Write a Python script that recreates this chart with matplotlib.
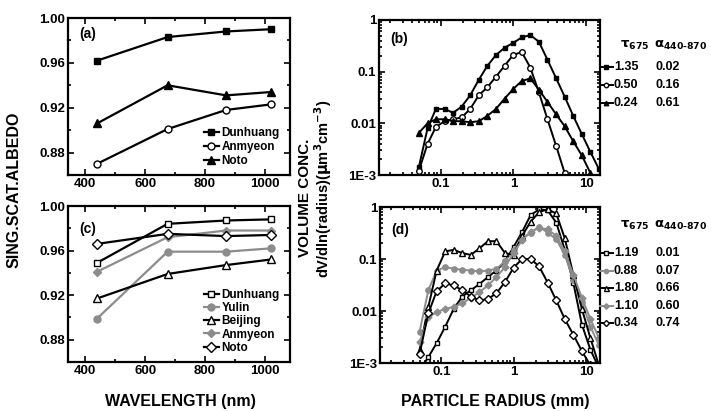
import matplotlib
matplotlib.use('Agg')
import matplotlib.pyplot as plt
from matplotlib.lines import Line2D
from matplotlib.ticker import FixedLocator, NullFormatter, LogLocator

plt.rcParams['font.family'] = ['Liberation Sans', 'DejaVu Sans']
plt.rcParams['font.weight'] = 'bold'
plt.rcParams['mathtext.default'] = 'bf'

# ---- data ----
wavelength = [440, 675, 870, 1020]

# panel (a)
a_dunhuang = [0.962, 0.983, 0.988, 0.990]
a_anmyeon = [0.870, 0.901, 0.918, 0.923]
a_noto = [0.906, 0.940, 0.931, 0.934]

# panel (c)
c_dunhuang = [0.949, 0.984, 0.987, 0.988]
c_yulin = [0.899, 0.959, 0.959, 0.962]
c_beijing = [0.917, 0.939, 0.947, 0.952]
c_anmyeon = [0.941, 0.972, 0.978, 0.978]
c_noto = [0.966, 0.975, 0.973, 0.974]

radius = [0.050, 0.066, 0.086, 0.113, 0.148, 0.194, 0.255, 0.335, 0.439, 0.576, 0.756,
          0.992, 1.302, 1.708, 2.239, 2.938, 3.856, 5.059, 6.637, 8.708, 11.425, 15.0]

# panel (b)
b_dunhuang = [0.0014, 0.008, 0.019, 0.019, 0.016, 0.021, 0.035, 0.07, 0.13, 0.21, 0.29,
              0.36, 0.46, 0.51, 0.38, 0.17, 0.075, 0.033, 0.014, 0.0062, 0.0028, 0.0013]
b_anmyeon = [0.0012, 0.004, 0.0085, 0.011, 0.012, 0.013, 0.019, 0.035, 0.05, 0.08, 0.13,
             0.21, 0.24, 0.12, 0.04, 0.012, 0.0037, 0.0011]
b_noto = [0.0065, 0.010, 0.012, 0.012, 0.011, 0.011, 0.0105, 0.011, 0.014, 0.019, 0.03,
          0.046, 0.066, 0.074, 0.045, 0.026, 0.015, 0.0088, 0.0045, 0.0024, 0.0011]
b_tau = ['1.35', '0.50', '0.24']
b_alpha = ['0.02', '0.16', '0.61']

# panel (d)
d_dunhuang = [0.0007, 0.0013, 0.0024, 0.005, 0.011, 0.019, 0.025, 0.033, 0.045, 0.06, 0.09,
              0.17, 0.33, 0.7, 0.9, 0.86, 0.5, 0.15, 0.035, 0.0055, 0.0018, 0.0008]
d_yulin = [0.004, 0.025, 0.06, 0.07, 0.065, 0.062, 0.06, 0.058, 0.06, 0.065, 0.09,
           0.15, 0.25, 0.32, 0.42, 0.32, 0.24, 0.12, 0.04, 0.015, 0.005, 0.0022]
d_beijing = [0.0018, 0.012, 0.06, 0.14, 0.15, 0.13, 0.12, 0.16, 0.22, 0.22, 0.13,
             0.12, 0.28, 0.52, 0.8, 0.9, 0.75, 0.25, 0.05, 0.011, 0.003, 0.0009]
d_anmyeon = [0.0025, 0.0075, 0.0095, 0.011, 0.012, 0.014, 0.018, 0.023, 0.031, 0.045, 0.07,
             0.13, 0.23, 0.33, 0.4, 0.37, 0.28, 0.14, 0.05, 0.018, 0.007, 0.003]
d_noto = [0.0015, 0.009, 0.024, 0.034, 0.031, 0.025, 0.019, 0.016, 0.017, 0.022, 0.036,
          0.068, 0.1, 0.1, 0.072, 0.035, 0.016, 0.007, 0.0035, 0.0017, 0.0009]
d_tau = ['1.19', '0.88', '1.80', '1.10', '0.34']
d_alpha = ['0.01', '0.07', '0.66', '0.60', '0.74']

GRAY = '#8c8c8c'
W, H = 711, 411


def box(l, t, r, b):
    return [l / W, 1 - b / H, (r - l) / W, (b - t) / H]


def fx(px):
    return px / W


def fy(py):
    return 1 - py / H


fig = plt.figure(figsize=(7.11, 4.11), dpi=100)
ax_a = fig.add_axes(box(68, 18, 290, 175))
ax_c = fig.add_axes(box(68, 206, 290, 362))
ax_b = fig.add_axes(box(379, 20, 600, 175))
ax_d = fig.add_axes(box(380, 207, 600, 363))


def style_lin(ax):
    ax.set_xlim(343, 1083)
    ax.set_ylim(0.86, 1.0)
    ax.xaxis.set_major_locator(FixedLocator([400, 600, 800, 1000]))
    ax.xaxis.set_minor_locator(FixedLocator([500, 700, 900]))
    ax.yaxis.set_major_locator(FixedLocator([0.88, 0.92, 0.96, 1.00]))
    ax.yaxis.set_minor_locator(FixedLocator([0.86, 0.90, 0.94, 0.98]))
    ax.set_yticklabels(['0.88', '0.92', '0.96', '1.00'])
    ax.tick_params(which='both', direction='in', top=True, right=True,
                   labelsize=9.5, width=1.2, pad=2)
    ax.tick_params(which='major', length=4)
    ax.tick_params(which='minor', length=2)
    for s in ax.spines.values():
        s.set_linewidth(1.6)


def style_log(ax):
    ax.set_xscale('log')
    ax.set_yscale('log')
    ax.set_xlim(0.0142, 15.5)
    ax.set_ylim(1e-3, 1)
    ax.xaxis.set_major_locator(FixedLocator([0.1, 1, 10]))
    ax.set_xticklabels(['0.1', '1', '10'])
    ax.xaxis.set_minor_locator(LogLocator(base=10, subs=range(2, 10)))
    ax.xaxis.set_minor_formatter(NullFormatter())
    ax.yaxis.set_major_locator(FixedLocator([1e-3, 0.01, 0.1, 1]))
    ax.set_yticklabels(['1E-3', '0.01', '0.1', '1'])
    ax.yaxis.set_minor_locator(LogLocator(base=10, subs=range(2, 10)))
    ax.yaxis.set_minor_formatter(NullFormatter())
    ax.tick_params(which='both', direction='in', top=True, right=True,
                   labelsize=9.5, width=1.2, pad=2)
    ax.tick_params(which='major', length=4)
    ax.tick_params(which='minor', length=2)
    for s in ax.spines.values():
        s.set_linewidth(1.6)


# (a)
ax_a.plot(wavelength, a_dunhuang, '-s', color='k', lw=1.6, ms=4.5, label='Dunhuang')
ax_a.plot(wavelength, a_anmyeon, '-o', color='k', mfc='white', lw=1.6, ms=5, label='Anmyeon')
ax_a.plot(wavelength, a_noto, '-^', color='k', lw=1.6, ms=5.5, label='Noto')
style_lin(ax_a)
ax_a.text(0.05, 0.87, '(a)', transform=ax_a.transAxes, fontsize=10)
ax_a.legend(loc='lower right', bbox_to_anchor=(0.99, 0.0), frameon=False, fontsize=8.5,
            handlelength=1.3, handletextpad=0.2, labelspacing=0.15, borderaxespad=0.3)

# (c)
ax_c.plot(wavelength, c_dunhuang, '-s', color='k', mfc='white', lw=1.6, ms=5, label='Dunhuang')
ax_c.plot(wavelength, c_yulin, '-o', color=GRAY, lw=1.6, ms=5, label='Yulin')
ax_c.plot(wavelength, c_beijing, '-^', color='k', mfc='white', lw=1.6, ms=6, label='Beijing')
ax_c.plot(wavelength, c_anmyeon, '-D', color=GRAY, lw=1.6, ms=4.5, label='Anmyeon')
ax_c.plot(wavelength, c_noto, '-D', color='k', mfc='white', lw=1.6, ms=5, label='Noto')
style_lin(ax_c)
ax_c.text(0.05, 0.83, '(c)', transform=ax_c.transAxes, fontsize=10)
ax_c.legend(loc='lower right', bbox_to_anchor=(0.99, 0.0), frameon=False, fontsize=8.5,
            handlelength=1.3, handletextpad=0.2, labelspacing=0.1, borderaxespad=0.3)

# (b)
b_styles = [dict(marker='s', color='k', ms=3.5),
            dict(marker='o', color='k', mfc='white', ms=4),
            dict(marker='^', color='k', ms=4)]
ax_b.plot(radius[:len(b_dunhuang)], b_dunhuang, lw=1.4, **b_styles[0])
ax_b.plot(radius[:len(b_anmyeon)], b_anmyeon, lw=1.4, **b_styles[1])
ax_b.plot(radius[:len(b_noto)], b_noto, lw=1.4, **b_styles[2])
style_log(ax_b)
ax_b.text(0.05, 0.85, '(b)', transform=ax_b.transAxes, fontsize=10)

# (d)
d_styles = [dict(marker='s', color='k', mfc='white', ms=3.5),
            dict(marker='o', color=GRAY, ms=3.8),
            dict(marker='^', color='k', mfc='white', ms=4.5),
            dict(marker='D', color=GRAY, ms=3.5),
            dict(marker='D', color='k', mfc='white', ms=3.8)]
for vals, st in zip([d_dunhuang, d_yulin, d_beijing, d_anmyeon, d_noto], d_styles):
    ax_d.plot(radius[:len(vals)], vals, lw=1.4, **st)
style_log(ax_d)
ax_d.text(0.05, 0.83, '(d)', transform=ax_d.transAxes, fontsize=10)


# legends at right of (b) and (d)
def side_legend(head_y, rows_y, taus, alphas, styles, sub1):
    fig.text(fx(620), fy(head_y), r'$\tau_{%s}$' % sub1, fontsize=9.5, va='center')
    fig.text(fx(654), fy(head_y), r'$\alpha_{440\text{-}870}$', fontsize=9.5, va='center')
    for y, t, a, st in zip(rows_y, taus, alphas, styles):
        kw = dict(st)
        kw['ms'] = st['ms'] * 0.8
        ln = Line2D([fx(600), fx(606), fx(613)], [fy(y)] * 3, transform=fig.transFigure,
                    lw=1.4, markevery=[1], **kw)
        fig.add_artist(ln)
        fig.text(fx(614), fy(y), t, fontsize=9, va='center')
        fig.text(fx(655), fy(y), a, fontsize=9, va='center')


side_legend(45, [67, 85, 103], b_tau, b_alpha, b_styles, '675')
side_legend(225, [253, 271, 288, 306, 323], d_tau, d_alpha, d_styles, '675')

# axis labels
fig.text(fx(14), fy(190), 'SING.SCAT.ALBEDO', rotation=90, fontsize=11.5,
         ha='center', va='center')
fig.text(fx(180), fy(401), 'WAVELENGTH (nm)', fontsize=11.5, ha='center', va='center')
fig.text(fx(495), fy(401), 'PARTICLE RADIUS (mm)', fontsize=11.5, ha='center', va='center')
fig.text(fx(305), fy(198), 'VOLUME CONC.', rotation=90, fontsize=11,
         ha='center', va='center')
fig.text(fx(323), fy(189), r'dV/dln(radius)($\mu$m$^3$cm$^{-3}$)', rotation=90,
         fontsize=10.5, ha='center', va='center')

fig.savefig('out.png', dpi=100)
